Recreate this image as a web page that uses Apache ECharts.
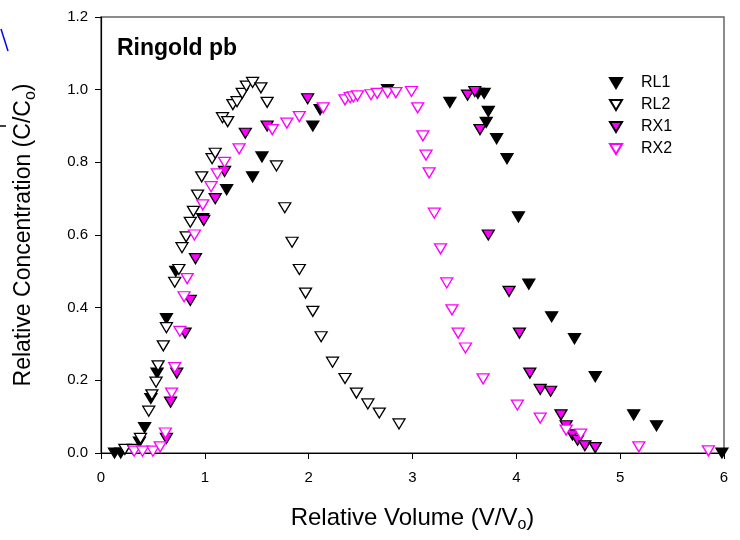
<!DOCTYPE html>
<html>
<head>
<meta charset="utf-8">
<script src="https://cdn.jsdelivr.net/npm/echarts@6/dist/echarts.min.js"></script>
<style>
html, body { margin: 0; padding: 0; background: #fff; }
#chart { width: 740px; height: 540px; }
</style>
</head>
<body>
<div id="chart"></div>
<script>
'use strict';
// data, [V/Vo, C/Co]
var rl1 = [
	[0.13, 0.0], [0.19, 0.0], [0.37, 0.03], [0.42, 0.07], [0.48, 0.15], [0.54, 0.22],
	[0.63, 0.37], [0.72, 0.50], [0.98, 0.645], [1.21, 0.725], [1.46, 0.76], [1.55, 0.815],
	[2.04, 0.90], [2.11, 0.945], [2.76, 1.0], [3.36, 0.965], [3.63, 0.99], [3.69, 0.99],
	[3.71, 0.91], [3.73, 0.94], [3.81, 0.865], [3.91, 0.81], [4.02, 0.65], [4.12, 0.465],
	[4.34, 0.375], [4.56, 0.315], [4.76, 0.21], [5.13, 0.105], [5.35, 0.075], [5.98, 0.0]
];
var rl2 = [
	[0.23, 0.01], [0.31, 0.01], [0.38, 0.04], [0.46, 0.115], [0.49, 0.16], [0.53, 0.195],
	[0.55, 0.24], [0.60, 0.295], [0.63, 0.345], [0.71, 0.47], [0.75, 0.505], [0.78, 0.565],
	[0.82, 0.595], [0.86, 0.635], [0.89, 0.665], [0.93, 0.71], [0.97, 0.76], [1.07, 0.81],
	[1.10, 0.825], [1.17, 0.923], [1.22, 0.912], [1.27, 0.959], [1.31, 0.967], [1.36, 0.99],
	[1.40, 1.01], [1.46, 1.02], [1.54, 1.005], [1.60, 0.965], [1.69, 0.79], [1.77, 0.675],
	[1.84, 0.58], [1.91, 0.505], [1.97, 0.44], [2.04, 0.39], [2.12, 0.32], [2.23, 0.25],
	[2.35, 0.205], [2.46, 0.165], [2.57, 0.135], [2.68, 0.11], [2.87, 0.08]
];
var rx1 = [
	[0.63, 0.04], [0.67, 0.14], [0.73, 0.22], [0.81, 0.33], [0.86, 0.42], [0.91, 0.535],
	[0.99, 0.64], [1.10, 0.70], [1.19, 0.775], [1.39, 0.88], [1.60, 0.90], [1.99, 0.975],
	[3.53, 0.985], [3.60, 0.995], [3.65, 0.89], [3.73, 0.60], [3.93, 0.445], [4.03, 0.33],
	[4.13, 0.22], [4.23, 0.175], [4.33, 0.17], [4.43, 0.105], [4.48, 0.075], [4.54, 0.05],
	[4.59, 0.035], [4.66, 0.02], [4.76, 0.015]
];
var rx2 = [
	[0.32, 0.005], [0.40, 0.005], [0.50, 0.005], [0.57, 0.017], [0.62, 0.055], [0.68, 0.165],
	[0.71, 0.235], [0.76, 0.335], [0.80, 0.43], [0.83, 0.48], [0.90, 0.60], [0.98, 0.683],
	[1.06, 0.733], [1.12, 0.768], [1.19, 0.80], [1.33, 0.837], [1.65, 0.89], [1.79, 0.908],
	[1.91, 0.926], [2.14, 0.95], [2.35, 0.972], [2.40, 0.978], [2.43, 0.98], [2.47, 0.983],
	[2.60, 0.986], [2.66, 0.99], [2.76, 0.992], [2.84, 0.992], [2.99, 0.995], [3.05, 0.95],
	[3.10, 0.873], [3.13, 0.82], [3.16, 0.771], [3.21, 0.66], [3.27, 0.562], [3.33, 0.468],
	[3.38, 0.394], [3.44, 0.33], [3.51, 0.289], [3.68, 0.204], [4.01, 0.132], [4.23, 0.096],
	[4.48, 0.063], [4.62, 0.052], [5.18, 0.017], [5.85, 0.006]
];
var seriesNames = ['RL1', 'RL2', 'RX1', 'RX2'];
var xTicks = [0, 6, 1];      // min, max, interval
var yTicks = [0, 1.2, 0.2];

var downTri = 'path://M0,0L12,0L6,10Z';
var font = 'Arial, "Liberation Sans", sans-serif';

function mk(name, data, fill, stroke) {
	return {
		name: name,
		type: 'scatter',
		data: data,
		symbol: downTri,
		symbolSize: [12, 10],
		itemStyle: { color: fill, borderColor: stroke, borderWidth: 1.3, opacity: 1 },
		emphasis: { disabled: true }
	};
}

var subStyle = { fontFamily: font, fontSize: 16, color: '#000', verticalAlign: 'bottom', padding: [14, 0, 0, 0] };

var myChart = echarts.init(document.getElementById('chart'), null, { renderer: 'canvas' });
var option = {
	animation: false,
	backgroundColor: '#fff',
	textStyle: { fontFamily: font, color: '#000' },
	title: {
		text: 'Ringold pb',
		left: 112, top: 32,
		textStyle: { fontFamily: font, fontSize: 23, fontWeight: 'bold', color: '#000' }
	},
	legend: {
		orient: 'vertical',
		left: 604, top: 70,
		itemGap: 6,
		itemWidth: 12, itemHeight: 10,
		textStyle: { fontFamily: font, fontSize: 16, color: '#000', padding: [0, 0, 0, 14] },
		data: seriesNames.map(function (n) { return { name: n, icon: downTri }; })
	},
	grid: {
		left: 101, right: 16, top: 17, bottom: 87,
		show: true, borderColor: '#666', borderWidth: 1.5, backgroundColor: 'transparent'
	},
	xAxis: {
		type: 'value',
		min: xTicks[0], max: xTicks[1], interval: xTicks[2],
		name: 'Relative Volume (V/V{sub|o})',
		nameLocation: 'middle', nameGap: 50,
		nameTextStyle: { fontFamily: font, fontSize: 24, color: '#000', rich: { sub: subStyle } },
		axisLine: { show: true, onZero: false, lineStyle: { color: '#000', width: 1.2 } },
		axisTick: { show: true, inside: false, length: 6, lineStyle: { color: '#000' } },
		axisLabel: { fontFamily: font, fontSize: 15, color: '#000', margin: 17 },
		splitLine: { show: false }
	},
	yAxis: {
		type: 'value',
		min: yTicks[0], max: yTicks[1], interval: yTicks[2],
		name: 'Relative Concentration (C/C{sub|o})',
		nameLocation: 'middle', nameGap: 62,
		nameTextStyle: { fontFamily: font, fontSize: 23, color: '#000', rich: { sub: subStyle } },
		axisLine: { show: true, onZero: false, lineStyle: { color: '#000', width: 1.2 } },
		axisTick: { show: true, inside: false, length: 6, lineStyle: { color: '#000' } },
		axisLabel: {
			fontFamily: font, fontSize: 15, color: '#000', margin: 13,
			formatter: function (v) { return v.toFixed(1); }
		},
		splitLine: { show: false }
	},
	graphic: [
		{ type: 'line', shape: { x1: 1, y1: 29, x2: 8, y2: 51 }, style: { stroke: '#0000ff', lineWidth: 1.5 } },
		{ type: 'line', shape: { x1: 0, y1: 126, x2: 6, y2: 126 }, style: { stroke: '#000', lineWidth: 1.5 } }
	],
	series: [
		mk(seriesNames[0], rl1, '#000000', '#000000'),
		mk(seriesNames[1], rl2, '#ffffff', '#000000'),
		mk(seriesNames[2], rx1, '#ff00ff', '#000000'),
		mk(seriesNames[3], rx2, '#ffffff', '#ff00ff')
	]
};
myChart.setOption(option);
window.onresize = myChart.resize;
</script>
</body>
</html>
